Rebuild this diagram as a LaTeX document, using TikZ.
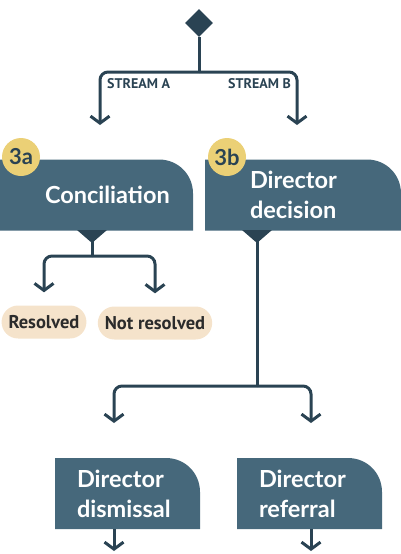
\documentclass[tikz,border=0pt]{standalone}
\usepackage{fontspec}
\setmainfont{Lato}
\newfontfamily\ptsans{PT Sans}
\usepackage{tikz}
\usetikzlibrary{arrows.meta,shapes.geometric}
\definecolor{ink}{HTML}{2A4353}
\definecolor{slate}{HTML}{46687B}
\definecolor{gold}{HTML}{EBD076}
\definecolor{sand}{HTML}{F5E3CB}
\definecolor{txt}{HTML}{2B2B2B}

\begin{document}
\begin{tikzpicture}[x=1pt,y=-1pt,>={Straight Barb[length=7pt,width=19pt]},
        flow/.style={draw=ink,line width=3pt,rounded corners=8pt},
        tab/.style={rectangle,fill=white,minimum height=71pt,text=white,align=left,
          font=\bfseries\fontsize{23.5}{30}\selectfont,
          path picture={\fill[slate] (path picture bounding box.south west)
            -- (path picture bounding box.north west)
            -- ([xshift=-34pt]path picture bounding box.north east)
            .. controls ([xshift=-15pt]path picture bounding box.north east)
            and ([yshift=-15pt]path picture bounding box.north east)
            .. ([yshift=-34pt]path picture bounding box.north east)
            -- (path picture bounding box.south east) -- cycle;}},
        badge/.style={circle,fill=gold,text=ink,minimum size=38pt,inner sep=0pt,
          font=\bfseries\fontsize{22}{22}\selectfont},
        outcome/.style={rectangle,rounded corners=16.5pt,fill=sand,text=txt,
          minimum height=33pt,inner xsep=7pt,font=\ptsans\bfseries\fontsize{18.5}{20}\selectfont},
        stream/.style={text=ink,inner sep=0pt,font=\ptsans\bfseries\fontsize{14}{16}\selectfont}]
      \useasboundingbox (0,0) rectangle (400,554);

      % split into the two streams
      \node [diamond,fill=ink,minimum size=28pt,inner sep=0pt] (start) at (199,23) {};
      \coordinate (fork)  at (199,72);
      \coordinate (tipA)  at (100,125);
      \coordinate (tipB)  at (297,125);
      \node [stream,anchor=base west] (lblA) at (107,88) {STREAM A};
      \node [stream,anchor=base east] (lblB) at (291,88) {STREAM B};
      \draw[flow] (start) -- (fork);
      \draw[flow,->] (fork) -| (tipA);
      \draw[flow,->] (fork) -| (tipB);

      \node [tab,inner xsep=46pt,text width=102pt] (concil)   at (96,195)  {Conciliation};
      \node [tab,inner xsep=45pt,text width=106pt] (decision) at (303,195) {Director\\decision};
      \node [badge] (b3a) at (21,157)  {3a};
      \node [badge] (b3b) at (227,157) {3b};

      % stream A
      \coordinate (outA)  at (92,230);
      \coordinate (forkA) at (92,256);
      \fill[ink] ([xshift=-15pt]outA) -- ([xshift=15pt]outA) -- ([yshift=-13pt]outA) -- cycle;
      \node [outcome] (res)    at (44,322)  {Resolved};
      \node [outcome] (notres) at (155,323) {Not resolved};
      \draw[flow] (outA) -- (forkA);
      \draw[flow,->,shorten >=13pt] (forkA) -| (res.north);
      \draw[flow,->,shorten >=13pt] (forkA) -| (notres.north);

      % stream B
      \coordinate (outB)  at (257,230);
      \coordinate (forkB) at (257,386);
      \coordinate (tipC)  at (114,423);
      \coordinate (tipD)  at (311,423);
      \fill[ink] ([xshift=-15pt]outB) -- ([xshift=15pt]outB) -- ([yshift=-13pt]outB) -- cycle;
      \draw[flow] (outB) -- (forkB);
      \draw[flow,->] (forkB) -| (tipC);
      \draw[flow,->] (forkB) -| (tipD);

      \node [tab,inner xsep=22pt,text width=101pt] (dismiss) at (127.5,493.5) {Director\\dismissal};
      \node [tab,inner xsep=22pt,text width=101pt] (refer)   at (309.5,493.5) {Director\\referral};
      \coordinate (endC) at (114,551);
      \coordinate (endD) at (311,551);
      \draw[flow,->] (dismiss.south -| endC) -- (endC);
      \draw[flow,->] (refer.south -| endD) -- (endD);
    \end{tikzpicture}
\end{document}
